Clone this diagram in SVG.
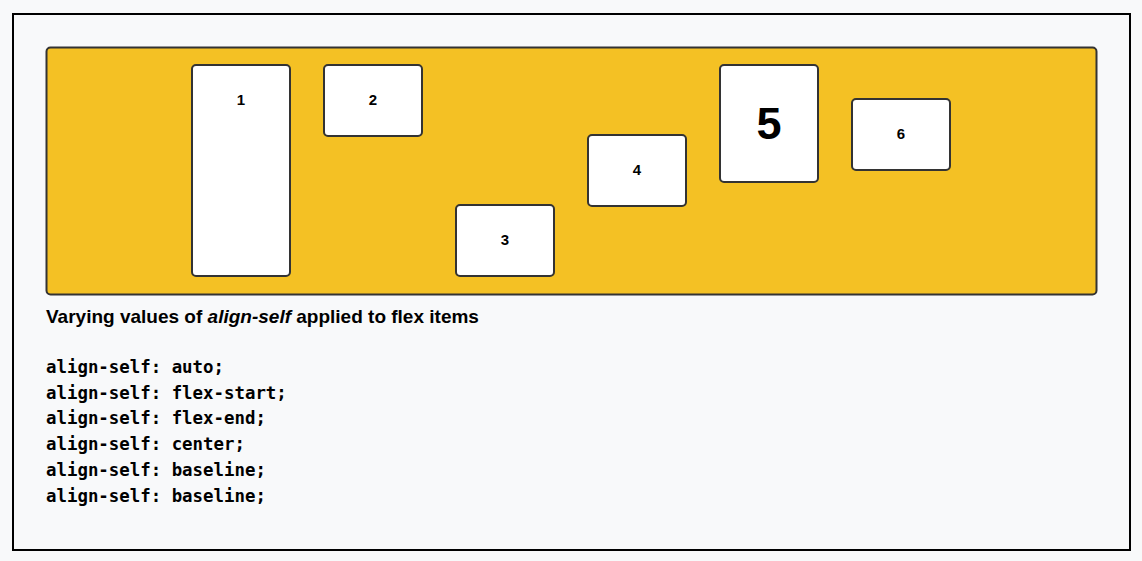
<svg xmlns="http://www.w3.org/2000/svg" width="1142" height="561" viewBox="0 0 1142 561">
<style>
.item{fill:#fff;stroke:#333;stroke-width:2}
.lbl{font-family:"Liberation Sans",Arial,sans-serif;font-weight:bold;font-size:15px;fill:#000;text-anchor:middle}
.code{font-family:"DejaVu Sans Mono","Liberation Mono",monospace;font-weight:bold;font-size:17.4px;fill:#000}
</style>
<rect x="0" y="0" width="1142" height="561" fill="#f8f9fa"/>
<rect x="13" y="14" width="1117" height="536" fill="#f8f9fa" stroke="#000" stroke-width="2"/>
<g id="container">
<rect x="46.5" y="47.5" width="1050" height="247" rx="4" fill="#f4c124" stroke="#333" stroke-width="2"/>
</g>
<g id="item1"><rect class="item" x="192" y="65" width="98" height="211" rx="4"/><text class="lbl" x="241" y="105">1</text></g>
<g id="item2"><rect class="item" x="324" y="65" width="98" height="71" rx="4"/><text class="lbl" x="373" y="105">2</text></g>
<g id="item3"><rect class="item" x="456" y="205" width="98" height="71" rx="4"/><text class="lbl" x="505" y="245">3</text></g>
<g id="item4"><rect class="item" x="588" y="135" width="98" height="71" rx="4"/><text class="lbl" x="637" y="175">4</text></g>
<g id="item5"><rect class="item" x="720" y="65" width="98" height="117" rx="4"/><text class="lbl" x="769" y="139" style="font-size:45px">5</text></g>
<g id="item6"><rect class="item" x="852" y="99" width="98" height="71" rx="4"/><text class="lbl" x="901" y="139">6</text></g>
<g id="connectors"></g>
<text x="46" y="323" font-family="Liberation Sans,Arial,sans-serif" font-weight="bold" font-size="19" fill="#000">Varying values of <tspan font-style="italic">align-self</tspan> applied to flex items</text>
<g id="code">
<text class="code" x="46" y="373">align-self: auto;</text>
<text class="code" x="46" y="399">align-self: flex-start;</text>
<text class="code" x="46" y="424">align-self: flex-end;</text>
<text class="code" x="46" y="450">align-self: center;</text>
<text class="code" x="46" y="476">align-self: baseline;</text>
<text class="code" x="46" y="502">align-self: baseline;</text>
</g>
</svg>
